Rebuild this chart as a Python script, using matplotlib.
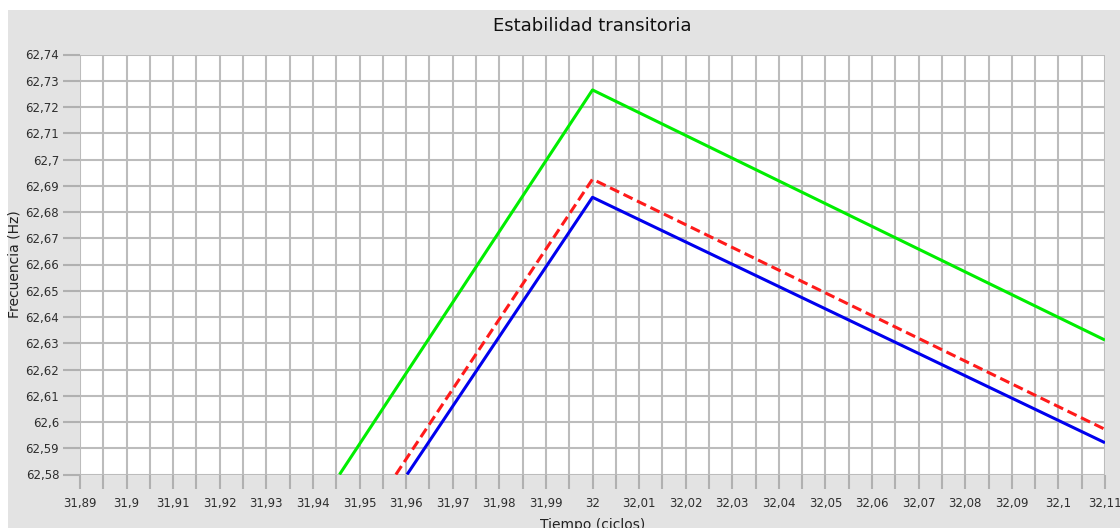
import matplotlib
matplotlib.use("Agg")
import matplotlib.pyplot as plt
from matplotlib.ticker import MultipleLocator, FuncFormatter
from matplotlib.patches import Rectangle

# datos
t_verde = [31.9457, 32.0, 32.11]
f_verde = [62.58, 62.7265, 62.6312]
t_rojo = [31.9578, 32.0, 32.11]
f_rojo = [62.58, 62.6925, 62.5972]
t_azul = [31.9602, 32.0, 32.11]
f_azul = [62.58, 62.6856, 62.5921]

titulo = "Estabilidad transitoria"
etiqueta_x = "Tiempo (ciclos)"
etiqueta_y = "Frecuencia (Hz)"

plt.rcParams['font.family'] = ['DejaVu Sans']

fig = plt.figure(figsize=(11.2, 5.28), dpi=100)
fig.patch.set_facecolor('white')
fig.patches.append(Rectangle((8 / 1120, 0), 1, 1 - 10 / 528, transform=fig.transFigure,
                             facecolor='#e3e3e3', edgecolor='none', zorder=-10))

ax = fig.add_axes([80 / 1120, 1 - 474.5 / 528, 1025 / 1120, 420 / 528])
ax.set_facecolor('white')

ax.plot(t_verde, f_verde, color='#00ee00', lw=2.2, solid_capstyle='butt', zorder=3)
ax.plot(t_rojo, f_rojo, color='#ff1a1a', lw=2.2, ls=(0, (3.3, 1.6)), zorder=3)
ax.plot(t_azul, f_azul, color='#0000ee', lw=2.2, solid_capstyle='butt', zorder=3)

ax.set_xlim(31.89, 32.11)
ax.set_ylim(62.58, 62.74)

def coma(v, pos):
    s = f"{v:.2f}".rstrip('0').rstrip('.')
    return s.replace('.', ',')

ax.xaxis.set_major_locator(MultipleLocator(0.01))
ax.xaxis.set_minor_locator(MultipleLocator(0.005))
ax.yaxis.set_major_locator(MultipleLocator(0.01))
ax.xaxis.set_major_formatter(FuncFormatter(coma))
ax.yaxis.set_major_formatter(FuncFormatter(coma))

ax.grid(True, which='major', color='#bcbcbc', lw=1.5)
ax.grid(True, which='minor', axis='x', color='#bcbcbc', lw=1.5)

for s in ax.spines.values():
    s.set_visible(False)

ax.tick_params(axis='both', which='both', colors='#b0b0b0', labelcolor='#2e2e2e',
               labelsize=8.5, width=1.5)
ax.tick_params(axis='y', length=12, pad=3)
ax.tick_params(axis='x', which='both', length=10, pad=6)

ax.set_title(titulo, fontsize=13, color='#111111', pad=17)
ax.set_xlabel(etiqueta_x, fontsize=10, color='#222222', labelpad=6)
ax.set_ylabel(etiqueta_y, fontsize=10, color='#222222', labelpad=3)

fig.savefig("out.png", dpi=100, facecolor=fig.get_facecolor())
